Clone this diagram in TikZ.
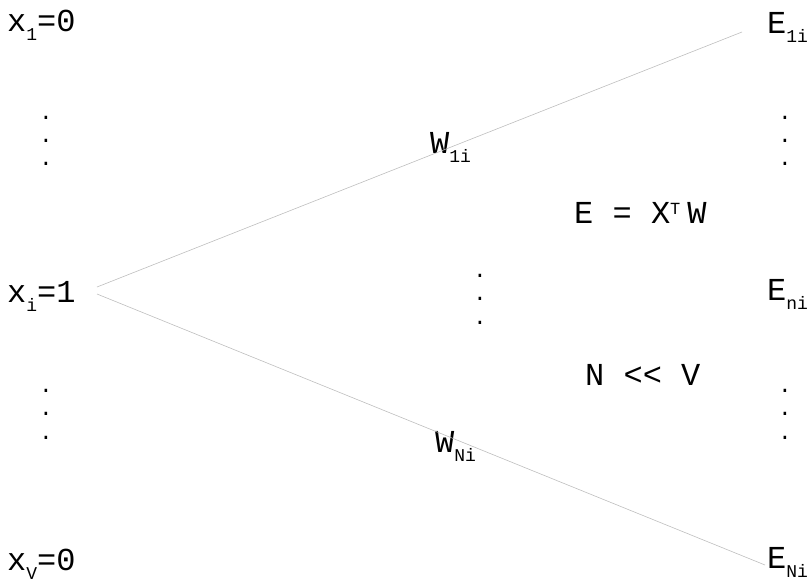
\documentclass[tikz,border=0pt]{standalone}
\usepackage{fontspec}
\setmainfont{Liberation Mono}[Ligatures=NoCommon]
\usepackage{tikz}
\usetikzlibrary{positioning}
\definecolor{wirecolor}{RGB}{190,190,190}
\newcommand{\lowsub}[1]{\raisebox{-9pt}{\fontsize{18}{18}\selectfont #1}}
\newcommand{\highsup}[1]{\raisebox{9pt}{\fontsize{17}{17}\selectfont #1}}

\begin{document}
\begin{tikzpicture}[
  x=1pt, y=-1pt,
  lbl/.style={anchor=base west, inner sep=0pt, font=\fontsize{32}{32}\selectfont},
  vdot/.style={anchor=base, inner sep=0pt, font=\fontsize{22}{22}\selectfont},
  wire/.style={wirecolor, line width=0.6pt},
]
  \useasboundingbox (0,0) rectangle (810,584);

  % Input one-hot vector
  \node[lbl] (x1) at (7,31)  {x\lowsub{1}=0};
  \node[lbl] (xi) at (7,302) {x\lowsub{i}=1};
  \node[lbl] (xV) at (7,570) {x\lowsub{V}=0};

  % Embedding entries
  \node[lbl] (e1) at (767,33)  {E\lowsub{1i}};
  \node[lbl] (en) at (767,300) {E\lowsub{ni}};
  \node[lbl] (eN) at (767,568) {E\lowsub{Ni}};

  % Weights
  \node[lbl] (w1) at (430,153) {W\lowsub{1i}};
  \node[lbl] (wN) at (435,452) {W\lowsub{Ni}};

  % Formulas
  \node[lbl] (eq) at (574,223) {E = X\highsup{T}\hspace{7pt}W};
  \node[lbl] (nv) at (585,385) {N {<}{<} V};

  % Vertical dots
  \foreach \y [count=\k] in {119,142,165} {
    \node[vdot] (dl1-\k) at (46,\y) {.};
    \node[vdot] (dr1-\k) at (785,\y) {.};
  }
  \foreach \y [count=\k] in {392,415,439} {
    \node[vdot] (dl2-\k) at (46,\y) {.};
    \node[vdot] (dr2-\k) at (785,\y) {.};
  }
  \foreach \y [count=\k] in {277,300,324} {
    \node[vdot] (dm-\k) at (480,\y) {.};
  }

  % Connections
  \coordinate (hubtop) at (97,287);
  \coordinate (hubbot) at (97,294);
  \coordinate (endtop) at (742,32);
  \coordinate (endbot) at (765,565);
  \draw[wire] (hubtop) -- (endtop);
  \draw[wire] (hubbot) -- (endbot);
\end{tikzpicture}
\end{document}
